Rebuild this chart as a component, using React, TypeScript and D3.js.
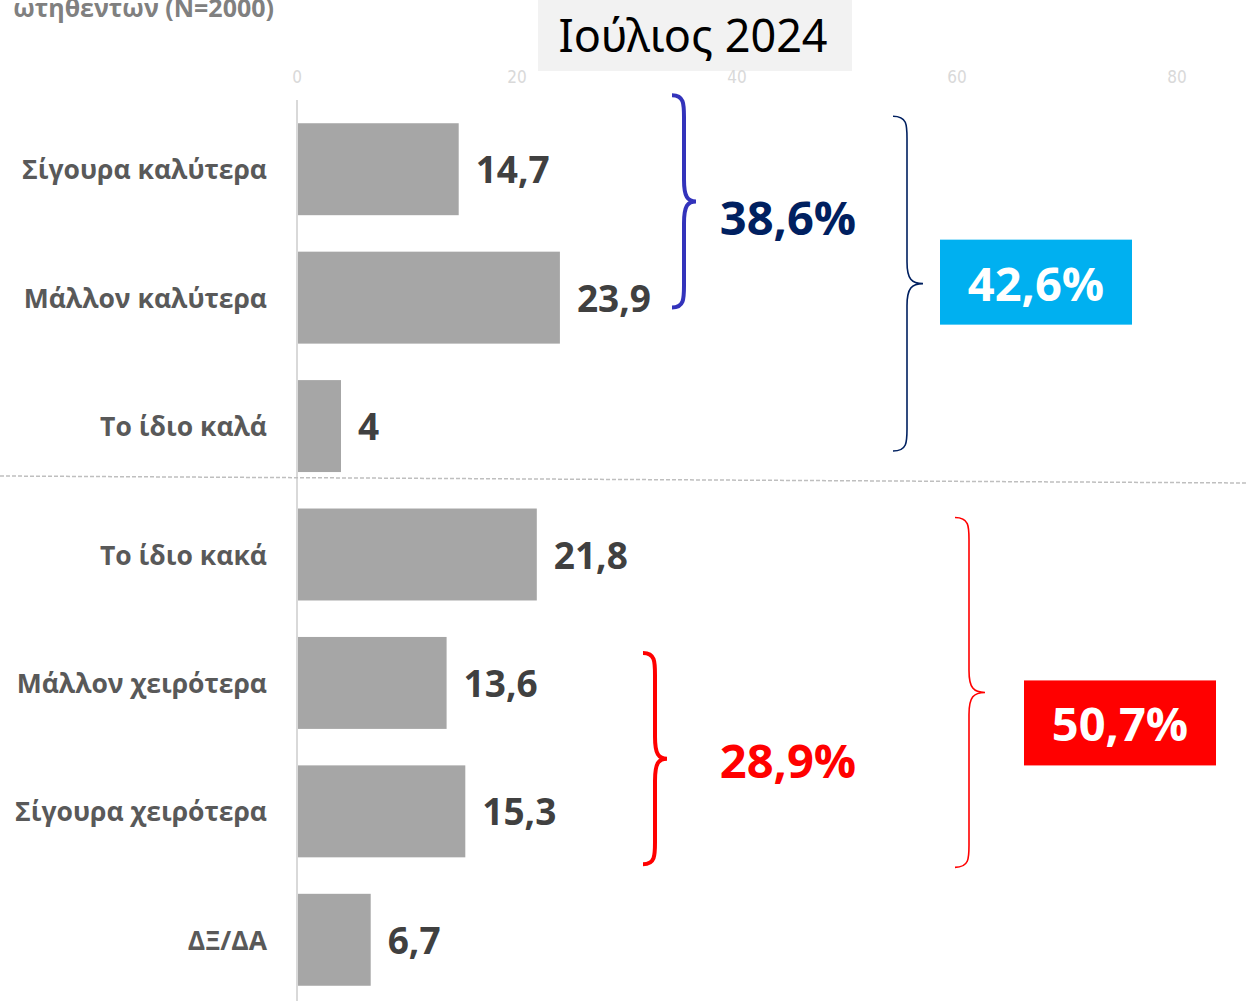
import React from "react";
import * as d3 from "d3";

const categories = [
  "Σίγουρα καλύτερα",
  "Μάλλον καλύτερα",
  "Το ίδιο καλά",
  "Το ίδιο κακά",
  "Μάλλον χειρότερα",
  "Σίγουρα χειρότερα",
  "ΔΞ/ΔΑ",
];
const values = [14.7, 23.9, 4, 21.8, 13.6, 15.3, 6.7];
const valueLabels = ["14,7", "23,9", "4", "21,8", "13,6", "15,3", "6,7"];
const xTicks = [0, 20, 40, 60, 80];
const title = "Ιούλιος 2024";
const baseNote = "ωτηθεντων (N=2000)";

// annotation groups: brace spanning categories, label
const innerGroups = [
  { from: 0, to: 1, label: "38,6%", color: "#3333bb", textColor: "#002060" },
  { from: 4, to: 5, label: "28,9%", color: "#ff0000", textColor: "#ff0000" },
];
const outerGroups = [
  { from: 0, to: 2, label: "42,6%", color: "#002060", box: "#00b0f0" },
  { from: 3, to: 5, label: "50,7%", color: "#ff0000", box: "#ff0000" },
];

const W = 1248;
const H = 1001;

function bracePath(x0: number, x1: number, x2: number, yTop: number, yMid: number, yBot: number) {
  const r = Math.min(22, (yMid - yTop) / 3);
  return [
    `M${x0},${yTop}`,
    `C${x1},${yTop} ${x1},${yTop + r * 0.4} ${x1},${yTop + r}`,
    `L${x1},${yMid - r}`,
    `C${x1},${yMid - r * 0.2} ${x1 + (x2 - x1) * 0.3},${yMid} ${x2},${yMid}`,
    `C${x1 + (x2 - x1) * 0.3},${yMid} ${x1},${yMid + r * 0.2} ${x1},${yMid + r}`,
    `L${x1},${yBot - r}`,
    `C${x1},${yBot - r * 0.4} ${x1},${yBot} ${x0},${yBot}`,
  ].join(" ");
}

export default function App() {
  const x = d3.scaleLinear().domain([0, 80]).range([297, 1177]);
  const y = d3
    .scaleBand<string>()
    .domain(categories)
    .range([105, 1004])
    .paddingInner(0.284)
    .paddingOuter(0.142);
  const bw = y.bandwidth();
  const yc = (i: number) => (y(categories[i]) as number) + bw / 2;

  const labelFont = "'Open Sans', 'Noto Sans', sans-serif";

  // per-group offsets (px) relative to the spanned bars
  const innerOff = [
    { top: -28, bot: -36, x0: 672, textDy: 34 },
    { top: 16, bot: 7, x0: 643, textDy: 19 },
  ];
  const outerOff = [
    { top: -7, bot: -21, x0: 893, bx: 940, boxDy: -44 },
    { top: 9, bot: 10, x0: 955, bx: 1024, boxDy: -12 },
  ];

  return (
    <svg
      width={W}
      height={H}
      style={{ position: "absolute", left: 0, top: 0, background: "#fff" }}
      fontFamily={labelFont}
    >
      {/* base note cut off at top-left */}
      <text x={274} y={17} textAnchor="end" fontSize={25} fontWeight={700} fill="#808080">
        {baseNote}
      </text>

      {/* title box */}
      <rect x={538} y={0} width={314} height={71} fill="#f2f2f2" />

      {/* x ticks */}
      {xTicks.map((t) => (
        <text
          key={t}
          x={x(t)}
          y={83}
          textAnchor="middle"
          fontSize={17}
          fill="#d9d9d9"
          fontFamily="'DejaVu Sans Condensed', 'Liberation Sans Narrow', sans-serif"
        >
          {t}
        </text>
      ))}

      <text x={693} y={52} textAnchor="middle" fontSize={45} fill="#000" fontFamily="'Noto Sans', 'Open Sans', sans-serif">
        {title}
      </text>

      {/* bars */}
      {values.map((v, i) => (
        <rect key={i} x={x(0)} y={y(categories[i])} width={x(v) - x(0)} height={bw} fill="#a6a6a6" />
      ))}

      {/* axis line */}
      <line x1={x(0)} x2={x(0)} y1={100} y2={H} stroke="#d9d9d9" strokeWidth={2} />

      {/* dashed separator */}
      <line x1={0} y1={476} x2={W} y2={483} stroke="#bfbfbf" strokeWidth={1.5} strokeDasharray="4,2" />

      {/* category labels */}
      {categories.map((c, i) => (
        <text key={c} x={267} y={yc(i) + 10} textAnchor="end" fontSize={26.5} fontWeight={700} fill="#595959">
          {c}
        </text>
      ))}

      {/* value labels */}
      {values.map((v, i) => (
        <text key={i} x={x(v) + 17} y={yc(i) + 14} fontSize={37} fontWeight={700} fill="#404040">
          {valueLabels[i]}
        </text>
      ))}

      {/* inner braces */}
      {innerGroups.map((g, k) => {
        const o = innerOff[k];
        const top = (y(categories[g.from]) as number) + o.top;
        const bot = (y(categories[g.to]) as number) + bw + o.bot;
        const mid = (top + bot) / 2;
        return (
          <g key={g.label}>
            <path
              d={bracePath(o.x0, o.x0 + 12, o.x0 + 24, top, mid, bot)}
              fill="none"
              stroke={g.color}
              strokeWidth={4}
            />
            <text x={788} y={mid + o.textDy} textAnchor="middle" fontSize={47} fontWeight={700} fill={g.textColor}>
              {g.label}
            </text>
          </g>
        );
      })}

      {/* outer braces + boxes */}
      {outerGroups.map((g, k) => {
        const o = outerOff[k];
        const top = (y(categories[g.from]) as number) + o.top;
        const bot = (y(categories[g.to]) as number) + bw + o.bot;
        const mid = (top + bot) / 2;
        return (
          <g key={g.label}>
            <path
              d={bracePath(o.x0, o.x0 + 14, o.x0 + 30, top, mid, bot)}
              fill="none"
              stroke={g.color}
              strokeWidth={1.6}
            />
            <rect x={o.bx} y={mid + o.boxDy} width={192} height={85} fill={g.box} />
            <text
              x={o.bx + 96}
              y={mid + o.boxDy + 61}
              textAnchor="middle"
              fontSize={47}
              fontWeight={700}
              fill="#fff"
            >
              {g.label}
            </text>
          </g>
        );
      })}
    </svg>
  );
}
